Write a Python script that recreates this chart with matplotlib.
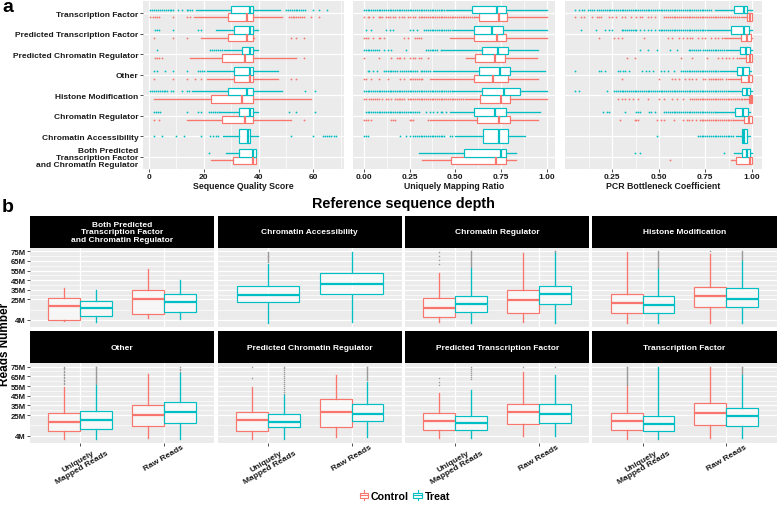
import numpy as np
import matplotlib
matplotlib.use("Agg")
import matplotlib.pyplot as plt
from matplotlib.patches import Rectangle, Patch
from matplotlib.lines import Line2D
from matplotlib.legend_handler import HandlerBase

plt.rcParams['font.family'] = ['Liberation Sans', 'DejaVu Sans']

# ---------------- DATA: panel a ----------------
A_CATS = ["Transcription Factor", "Predicted Transcription Factor", "Predicted Chromatin Regulator",
          "Other", "Histone Modification", "Chromatin Regulator", "Chromatin Accessibility",
          "Both Predicted\nTranscription Factor\nand Chromatin Regulator"]
A_METRICS = ["Sequence Quality Score", "Uniquely Mapping Ratio", "PCR Bottleneck Coefficient"]
A_XTICKS = [[0, 20, 40, 60], [0, 0.25, 0.5, 0.75, 1.0], [0.25, 0.5, 0.75, 1.0]]
A_XTICKLABELS = [["0", "20", "40", "60"], ["0.00", "0.25", "0.50", "0.75", "1.00"],
                 ["0.25", "0.50", "0.75", "1.00"]]

# (whisker low, q1, median, q3, whisker high)
SQS_TREAT = [(17.0, 29.8, 37.0, 38.0, 48.0), (24.6, 31.0, 37.0, 38.0, 39.8), (27.3, 34.0, 37.0, 38.0, 39.8),
             (21.0, 31.0, 37.0, 38.0, 47.0), (15.8, 29.0, 35.8, 38.0, 48.6), (25.8, 32.8, 37.0, 38.0, 39.8),
             (27.0, 32.8, 36.1, 37.0, 39.8), (28.2, 32.8, 38.0, 38.9, 38.9)]
SQS_TREAT_FLIERS = [
    [0.5, 1.2, 1.9, 2.6, 3.3, 4.0, 4.7, 5.4, 6.1, 6.8, 7.5, 8.2, 8.9, 10.7, 11.9, 13.7, 14.4, 15.1, 15.8,
     50.0, 50.7, 51.4, 52.1, 52.8, 53.5, 54.2, 54.9, 55.6, 56.3, 57.0, 60.0, 62.0, 65.0],
    [2.0, 2.8, 3.6, 8.8, 18.0, 19.0],
    [2.8, 22.4, 23.1, 23.8, 24.5, 25.2, 25.9, 26.6],
    [1.8, 2.8, 5.7, 8.8, 14.0, 18.0, 18.7, 19.4, 20.1],
    [0.4, 1.1, 1.8, 2.5, 3.2, 3.9, 4.6, 5.3, 6.0, 6.7, 8.0, 8.8, 11.9, 13.7, 14.7, 57.0, 60.7],
    [1.8, 2.5, 3.2, 4.0, 14.0, 18.0, 19.0, 22.0, 22.7, 23.4, 24.1, 24.8, 25.5, 51.0, 53.7, 60.7],
    [1.8, 4.6, 9.8, 12.7, 18.9, 22.4, 23.4, 24.4, 25.2, 51.9, 59.8, 63.4, 64.2, 65.0, 65.8, 66.6, 67.4, 68.2],
    [22.0]]
SQS_CTRL = [(16.5, 29.0, 35.8, 38.0, 48.6), (19.0, 29.0, 35.8, 38.0, 38.5), (15.0, 26.8, 35.0, 38.0, 53.7),
            (21.0, 31.0, 37.0, 38.0, 47.0), (1.8, 22.8, 33.8, 38.0, 59.0), (14.0, 26.8, 35.0, 38.0, 52.0),
            None, (22.8, 30.7, 38.0, 38.9, 38.9)]
SQS_CTRL_FLIERS = [
    [0.5, 1.3, 2.1, 2.9, 3.7, 8.8, 14.0, 15.0, 51.0, 51.7, 52.4, 53.1, 53.8, 54.5, 55.2, 55.9, 56.6, 59.0, 62.0],
    [1.8, 8.8, 14.0, 52.0, 53.7, 56.7],
    [2.0, 2.8, 3.6, 4.6, 56.7],
    [1.8, 8.8, 14.0, 16.7, 19.0, 52.0, 53.5],
    [],
    [1.8, 3.8, 56.7],
    [],
    []]

UMR_TREAT = [(0.45, 0.59, 0.73, 0.78, 1.00), (0.48, 0.60, 0.70, 0.76, 1.00), (0.43, 0.645, 0.736, 0.79, 0.955),
             (0.38, 0.63, 0.745, 0.80, 0.99), (0.49, 0.645, 0.767, 0.855, 1.00), (0.47, 0.60, 0.72, 0.78, 0.965),
             (0.50, 0.65, 0.74, 0.79, 0.88), (0.30, 0.55, 0.75, 0.775, 0.835)]
UMR_TREAT_FLIERS = [
    [0.00, 0.01, 0.02, 0.03, 0.04, 0.05, 0.06, 0.07, 0.08, 0.09, 0.10, 0.11, 0.12, 0.13, 0.14, 0.15, 0.16,
     0.17, 0.18, 0.19, 0.20, 0.21, 0.22, 0.23, 0.24, 0.25, 0.26, 0.27, 0.28, 0.29, 0.30, 0.31, 0.32, 0.33,
     0.34, 0.35, 0.36, 0.37, 0.38, 0.39, 0.40, 0.41, 0.42, 0.43, 0.44],
    [0.01, 0.04, 0.12, 0.14, 0.16, 0.25, 0.27, 0.29, 0.33, 0.34, 0.35, 0.36, 0.37, 0.38, 0.39, 0.40, 0.41,
     0.42, 0.43, 0.44, 0.45, 0.46, 0.47],
    [0.00, 0.01, 0.02, 0.03, 0.04, 0.05, 0.06, 0.07, 0.08, 0.11, 0.13, 0.15, 0.23, 0.34, 0.35, 0.36, 0.37,
     0.38, 0.39, 0.40, 0.42],
    [0.02, 0.03, 0.05, 0.07, 0.11, 0.12, 0.13, 0.14, 0.15, 0.16, 0.17, 0.18, 0.20, 0.21, 0.22, 0.23, 0.24,
     0.25, 0.26, 0.27, 0.28, 0.29, 0.31, 0.32, 0.33, 0.34, 0.35, 0.36],
    [0.00, 0.01, 0.02, 0.03, 0.04, 0.05, 0.06, 0.07, 0.08, 0.09, 0.10, 0.11, 0.12, 0.13, 0.14, 0.15, 0.16,
     0.17, 0.18, 0.19, 0.20, 0.21, 0.22, 0.23, 0.24, 0.25, 0.26, 0.27, 0.28, 0.29, 0.30, 0.31, 0.32, 0.33,
     0.34, 0.35, 0.36, 0.37, 0.38, 0.39, 0.40, 0.41, 0.42, 0.43, 0.44, 0.45, 0.46, 0.47, 0.48],
    [0.01, 0.02, 0.03, 0.04, 0.05, 0.06, 0.07, 0.08, 0.09, 0.10, 0.11, 0.12, 0.13, 0.14, 0.15, 0.16, 0.17,
     0.18, 0.19, 0.20, 0.21, 0.22, 0.23, 0.24, 0.25, 0.26, 0.27, 0.28, 0.29, 0.30, 0.34, 0.36, 0.38, 0.40,
     0.42, 0.43, 0.45],
    [0.00, 0.01, 0.02, 0.20, 0.23, 0.25, 0.27, 0.28, 0.29, 0.30, 0.31, 0.32, 0.33, 0.34, 0.35, 0.36, 0.37,
     0.38, 0.39, 0.40, 0.41, 0.42, 0.43, 0.44, 0.47, 0.48],
    []]
UMR_CTRL = [(0.61, 0.63, 0.74, 0.785, 1.00), (0.47, 0.60, 0.73, 0.78, 1.00), (0.56, 0.61, 0.72, 0.77, 0.945),
            (0.36, 0.60, 0.705, 0.79, 0.955), (0.555, 0.633, 0.75, 0.80, 1.00), (0.36, 0.62, 0.74, 0.80, 0.955),
            None, (0.32, 0.475, 0.725, 0.78, 0.835)]
UMR_CTRL_FLIERS = [
    [0.00, 0.02, 0.03, 0.05, 0.08, 0.09, 0.10, 0.12, 0.13, 0.14, 0.16, 0.17, 0.19, 0.21, 0.22, 0.24, 0.25,
     0.27, 0.28, 0.30, 0.31, 0.32, 0.33, 0.34, 0.35, 0.36, 0.37, 0.38, 0.39, 0.40, 0.41, 0.42, 0.43, 0.44,
     0.45, 0.46, 0.47, 0.48, 0.49, 0.50, 0.51, 0.52, 0.53, 0.54, 0.55, 0.56, 0.57, 0.58, 0.59, 0.60],
    [0.00, 0.01, 0.02, 0.05, 0.08, 0.09, 0.11, 0.22, 0.24, 0.28, 0.29, 0.30, 0.31],
    [0.00, 0.08, 0.15, 0.18, 0.19, 0.20, 0.22, 0.25, 0.27, 0.28, 0.30, 0.31, 0.35],
    [0.00, 0.01, 0.04, 0.08, 0.13, 0.20, 0.22, 0.25, 0.26, 0.27, 0.28, 0.29, 0.30, 0.31, 0.32],
    [0.00, 0.01, 0.03, 0.04, 0.05, 0.06, 0.07, 0.08, 0.10, 0.12, 0.13, 0.15, 0.17, 0.18, 0.19, 0.20, 0.21,
     0.22, 0.24, 0.25, 0.26, 0.27, 0.28, 0.29, 0.30, 0.31, 0.32, 0.33, 0.34, 0.35, 0.36, 0.37, 0.38, 0.39,
     0.40, 0.41, 0.42, 0.43, 0.44, 0.45, 0.46, 0.47, 0.48, 0.49, 0.50, 0.51, 0.52, 0.53, 0.54],
    [0.00, 0.01, 0.02, 0.04, 0.15, 0.16, 0.17, 0.25, 0.26, 0.27, 0.35],
    [],
    []]

PCB_TREAT = [(0.80, 0.906, 0.96, 0.977, 1.0), (0.76, 0.89, 0.957, 0.983, 1.0), (0.86, 0.937, 0.97, 0.99, 1.0),
             (0.83, 0.923, 0.954, 0.983, 0.997), (0.88, 0.948, 0.974, 0.99, 1.0), (0.81, 0.91, 0.954, 0.979, 0.99),
             (0.915, 0.948, 0.96, 0.977, 0.99), (0.906, 0.945, 0.974, 0.99, 1.0)]
PCB_TREAT_FLIERS = [
    [0.05, 0.07, 0.09, 0.10, 0.12, 0.13, 0.14, 0.15, 0.17, 0.18, 0.19, 0.20, 0.21, 0.22, 0.23, 0.24, 0.25,
     0.26, 0.27, 0.28, 0.29, 0.30, 0.31, 0.32, 0.33, 0.34, 0.35, 0.36, 0.37, 0.38, 0.39, 0.40, 0.41, 0.42,
     0.43, 0.44, 0.45, 0.46, 0.47, 0.48, 0.49, 0.50, 0.51, 0.52, 0.53, 0.54, 0.55, 0.56, 0.57, 0.58, 0.59,
     0.60, 0.61, 0.62, 0.63, 0.64, 0.65, 0.66, 0.67, 0.68, 0.69, 0.70, 0.71, 0.72, 0.73, 0.74, 0.75, 0.76,
     0.77, 0.78],
    [0.08, 0.165, 0.21, 0.23, 0.25, 0.30, 0.31, 0.32, 0.33, 0.34, 0.35, 0.36, 0.37, 0.38, 0.40, 0.42, 0.44,
     0.46, 0.48, 0.50, 0.51, 0.52, 0.53, 0.54, 0.55, 0.56, 0.57, 0.58, 0.59, 0.60, 0.61, 0.62, 0.63, 0.64,
     0.65, 0.66, 0.67, 0.68, 0.69, 0.70, 0.71, 0.72, 0.73, 0.74, 0.75],
    [0.40, 0.44, 0.49, 0.56, 0.60, 0.66, 0.67, 0.68, 0.69, 0.70, 0.71, 0.72, 0.74, 0.75, 0.76, 0.77, 0.78,
     0.79, 0.80, 0.81, 0.82, 0.83, 0.84, 0.85],
    [0.05, 0.18, 0.19, 0.21, 0.28, 0.29, 0.31, 0.32, 0.34, 0.41, 0.43, 0.45, 0.47, 0.51, 0.53, 0.55, 0.58,
     0.62, 0.63, 0.64, 0.65, 0.66, 0.67, 0.68, 0.69, 0.70, 0.71, 0.72, 0.73, 0.74, 0.75, 0.76, 0.77, 0.78,
     0.79, 0.80, 0.81, 0.82],
    [0.05, 0.07, 0.22, 0.26, 0.27, 0.28, 0.29, 0.30, 0.31, 0.32, 0.33, 0.34, 0.35, 0.36, 0.37, 0.38, 0.39,
     0.40, 0.41, 0.42, 0.43, 0.44, 0.45, 0.46, 0.47, 0.48, 0.49, 0.50, 0.51, 0.52, 0.53, 0.54, 0.55, 0.56,
     0.57, 0.58, 0.59, 0.60, 0.61, 0.62, 0.63, 0.64, 0.65, 0.66, 0.67, 0.68, 0.69, 0.70, 0.71, 0.72, 0.73,
     0.74, 0.75, 0.76, 0.77, 0.78, 0.79, 0.80, 0.81, 0.82, 0.83, 0.84, 0.85, 0.86, 0.87],
    [0.20, 0.22, 0.23, 0.32, 0.38, 0.39, 0.40, 0.45, 0.46, 0.48, 0.53, 0.54, 0.55, 0.56, 0.57, 0.58, 0.59,
     0.60, 0.61, 0.62, 0.63, 0.64, 0.65, 0.66, 0.67, 0.68, 0.69, 0.70, 0.71, 0.72, 0.73, 0.74, 0.75, 0.76,
     0.77, 0.78, 0.79, 0.80],
    [0.49, 0.71, 0.72, 0.73, 0.74, 0.75, 0.76, 0.77, 0.78, 0.79, 0.80, 0.81, 0.82, 0.83, 0.84, 0.85, 0.86,
     0.87, 0.88, 0.89, 0.90],
    [0.37, 0.40, 0.85]]
PCB_CTRL = [(0.94, 0.974, 0.988, 1.0, 1.0), (0.85, 0.94, 0.977, 0.994, 1.0), (0.93, 0.97, 0.988, 1.0, 1.0),
            (0.87, 0.943, 0.983, 1.0, 1.0), (0.965, 0.983, 0.994, 1.0, 1.0), (0.905, 0.957, 0.983, 1.0, 1.0),
            None, (0.889, 0.914, 0.99, 1.0, 1.0)]
PCB_CTRL_FLIERS = [
    [0.05, 0.08, 0.10, 0.14, 0.17, 0.18, 0.19, 0.23, 0.25, 0.27, 0.30, 0.32, 0.35, 0.38, 0.40, 0.41, 0.44,
     0.46, 0.48, 0.53, 0.54, 0.55, 0.56, 0.57, 0.58, 0.59, 0.60, 0.61, 0.62, 0.63, 0.64, 0.65, 0.66, 0.67,
     0.68, 0.69, 0.70, 0.71, 0.72, 0.73, 0.74, 0.75, 0.76, 0.77, 0.78, 0.79, 0.80, 0.81, 0.82, 0.83, 0.84,
     0.85, 0.86, 0.87, 0.88, 0.89, 0.90, 0.91, 0.92, 0.93],
    [0.18, 0.26, 0.28, 0.30, 0.42, 0.55, 0.57, 0.61, 0.63, 0.65, 0.67, 0.68, 0.71, 0.73, 0.75, 0.78, 0.80,
     0.82, 0.84],
    [0.33, 0.37, 0.62, 0.68, 0.76, 0.82, 0.84, 0.86, 0.88, 0.90, 0.92],
    [0.30, 0.50, 0.57, 0.59, 0.61, 0.64, 0.66, 0.68, 0.70, 0.74, 0.75, 0.77, 0.78, 0.79, 0.80, 0.81, 0.82,
     0.83, 0.84, 0.86],
    [0.28, 0.30, 0.32, 0.34, 0.36, 0.39, 0.44, 0.50, 0.53, 0.57, 0.60, 0.63, 0.67, 0.68, 0.69, 0.70, 0.71,
     0.72, 0.73, 0.74, 0.75, 0.76, 0.77, 0.78, 0.79, 0.80, 0.81, 0.82, 0.83, 0.84, 0.85, 0.86, 0.87, 0.88,
     0.89, 0.90, 0.91, 0.92, 0.93, 0.94, 0.95, 0.96],
    [0.29, 0.37, 0.38, 0.39, 0.49, 0.51, 0.53, 0.58, 0.63, 0.65, 0.66, 0.68, 0.70, 0.72, 0.73, 0.74, 0.75,
     0.76, 0.77, 0.78, 0.79, 0.80, 0.81, 0.82, 0.83, 0.84, 0.85, 0.86, 0.87, 0.88, 0.89, 0.90],
    [],
    [0.56]]

# ---------------- DATA: panel b ----------------
B_FACETS = ["Both Predicted\nTranscription Factor\nand Chromatin Regulator", "Chromatin Accessibility",
            "Chromatin Regulator", "Histone Modification", "Other", "Predicted Chromatin Regulator",
            "Predicted Transcription Factor", "Transcription Factor"]
B_CATS = ["Uniquely\nMapped Reads", "Raw Reads"]
B_YTICKS = [4, 25, 35, 45, 55, 65, 75]
B_YTICKLABELS = ["4M", "25M", "35M", "45M", "55M", "65M", "75M"]
B_CTRL = [
    [(2.9, 4.0, 18.4, 27.0, 36.6), (5.5, 9.9, 25.3, 34.9, 56.2)],
    [None, None],
    [(1.3, 7.1, 15.7, 27.0, 52.8), (2.0, 10.9, 24.4, 34.9, 73.3)],
    [(0.3, 10.5, 20.9, 31.1, 74.0), (0.3, 17.4, 28.1, 38.4, 71.6)],
    [(0.5, 8.5, 17.9, 26.8, 54.2), (1.2, 14.0, 25.5, 35.5, 67.0)],
    [(0.5, 8.5, 19.6, 28.3, 54.2), (2.3, 12.7, 28.3, 41.4, 66.3)],
    [(1.2, 9.9, 18.9, 27.1, 47.9), (3.3, 16.1, 28.3, 36.9, 69.8)],
    [(0.5, 9.9, 18.9, 27.1, 55.0), (1.2, 15.4, 27.1, 37.2, 75.0)]]
B_TREAT = [
    [(1.3, 8.1, 15.7, 23.6, 34.9), (4.7, 12.2, 21.9, 31.1, 44.9)],
    [(0.2, 22.5, 30.1, 39.0, 62.0), (1.2, 31.1, 41.4, 52.8, 74.0)],
    [(0.3, 11.6, 20.2, 28.1, 57.9), (0.3, 20.2, 30.9, 39.3, 73.0)],
    [(0.3, 10.5, 19.4, 28.8, 57.0), (0.3, 16.7, 26.0, 36.6, 65.0)],
    [(0.5, 10.6, 20.6, 29.6, 55.9), (0.5, 17.5, 28.3, 38.7, 68.0)],
    [(0.5, 12.7, 18.5, 26.5, 45.5), (3.0, 18.9, 25.8, 36.2, 59.4)],
    [(1.2, 9.9, 17.2, 24.7, 50.7), (3.3, 16.8, 26.2, 36.2, 66.3)],
    [(0.5, 8.5, 15.8, 23.7, 75.0), (1.2, 14.4, 23.7, 32.4, 66.0)]]
B_CTRL_FLIERS = [
    [[], []],
    [[], []],
    [[62, 66, 70, 74], []],
    [[], [75]],
    [[57, 58.5, 60, 61.5, 63, 64.5, 66, 67.5, 69, 70.5, 72, 73.5, 75], []],
    [[63, 74], []],
    [[56, 59, 63], [74]],
    [[56, 57, 58, 59, 60, 61, 62, 63, 64, 65, 66, 67, 68, 69, 70, 71, 72, 73, 74, 75], []]]
B_TREAT_FLIERS = [
    [[], []],
    [[63.5, 64.5, 65.5, 66.5, 67.5, 68.5, 69.5, 70.5, 71.5, 72.5, 73.5, 74.5], []],
    [[59, 60, 61, 62, 63, 64, 65, 66, 67, 68, 69, 70, 71, 72, 73, 74, 75], [74, 74.8, 75.6]],
    [[58, 59, 60, 61, 62, 63, 64, 65, 66, 67, 68, 69, 70, 71, 72, 73, 74, 75],
     [66, 67, 68, 69, 70, 71, 72, 73, 74, 75]],
    [[57, 58, 59, 60, 61, 62, 63, 64, 65, 66, 67, 68, 69, 70, 71, 72, 73, 74, 75], [69.5, 71, 72.5, 74]],
    [[47, 49, 51, 53, 55, 57, 59, 61, 63, 65, 67, 69, 71, 73, 75],
     [61, 62, 63, 64, 65, 66, 67, 68, 69, 70, 71, 72, 73, 74, 75]],
    [[62, 64, 66, 68, 70, 72, 74], [74.5]],
    [[], [67, 68, 69, 70, 71, 72, 73, 74, 75]]]

GROUPS = ["Control", "Treat"]

# ---------------- styling ----------------
RED = '#F8766D'
TEAL = '#00BFC4'
BG = '#EBEBEB'
TXT = '#1a1a1a'
W, H = 778, 506
fig = plt.figure(figsize=(W / 100, H / 100), dpi=100)


def add_ax(x0, y0, x1, y1):
    return fig.add_axes([x0 / W, 1 - y1 / H, (x1 - x0) / W, (y1 - y0) / H])


def style_panel(ax):
    ax.set_facecolor(BG)
    for s in ax.spines.values():
        s.set_visible(False)
    ax.grid(True, which='major', color='white', lw=0.9)
    ax.grid(True, which='minor', color='white', lw=0.45)
    ax.set_axisbelow(True)
    ax.tick_params(which='major', length=2, width=0.6, color='#333333', pad=1.2)
    ax.tick_params(which='minor', length=0)


def draw(ax, stat, fl, pos, width, color, horizontal, fcolor, fsize, fill_alpha=1.0):
    lo, q1, med, q3, hi = stat
    d = dict(whislo=lo, q1=q1, med=med, q3=q3, whishi=hi, fliers=np.array(fl, dtype=float))
    has_fl = len(fl) > 0
    art = ax.bxp([d], positions=[pos], widths=width,
                 orientation='horizontal' if horizontal else 'vertical',
                 patch_artist=True, showcaps=False, manage_ticks=False, showfliers=has_fl,
                 boxprops=dict(facecolor=(1, 1, 1, fill_alpha), edgecolor=color, lw=0.85),
                 whiskerprops=dict(color=color, lw=0.95, linestyle='-'),
                 medianprops=dict(color=color, lw=1.6, solid_capstyle='butt'),
                 flierprops=dict(marker='o', markersize=fsize, markerfacecolor=fcolor,
                                 markeredgecolor='none', linestyle='none'))
    for ln in art['whiskers']:
        ln.set_color(color)
        ln.set_zorder(2.5)
    for ln in art['medians']:
        ln.set_color(color)
        ln.set_zorder(3)
    for b in art['boxes']:
        b.set_edgecolor(color)
    for ln in art['fliers']:
        ln.set_zorder(2.2)


# ---------------- panel a ----------------
a_boxes = [(143, 344), (353, 555), (565, 762)]
a_xlim = [(-2.2, 71.2), (-0.06, 1.046), (-0.004, 1.055)]
a_minor = [[10, 30, 50, 70], [0.125, 0.375, 0.625, 0.875], [0.125, 0.375, 0.625, 0.875]]
a_data = [(SQS_CTRL, SQS_CTRL_FLIERS, SQS_TREAT, SQS_TREAT_FLIERS),
          (UMR_CTRL, UMR_CTRL_FLIERS, UMR_TREAT, UMR_TREAT_FLIERS),
          (PCB_CTRL, PCB_CTRL_FLIERS, PCB_TREAT, PCB_TREAT_FLIERS)]
for k in range(3):
    ax = add_ax(a_boxes[k][0], 2, a_boxes[k][1], 170)
    style_panel(ax)
    ctrl, ctrl_f, treat, treat_f = a_data[k]
    for i in range(len(A_CATS)):
        if ctrl[i] is None:
            draw(ax, treat[i], treat_f[i], i, 0.70, TEAL, True, TEAL, 1.3)
        else:
            draw(ax, ctrl[i], ctrl_f[i], i + 0.185, 0.37, RED, True, RED, 1.3)
            draw(ax, treat[i], treat_f[i], i - 0.185, 0.37, TEAL, True, TEAL, 1.3)
    ax.set_ylim(len(A_CATS) - 0.4, -0.6)
    ax.set_xlim(*a_xlim[k])
    ax.set_xticks(A_XTICKS[k])
    ax.set_xticklabels(A_XTICKLABELS[k], fontsize=6, fontweight='bold', color=TXT)
    ax.set_xticks(a_minor[k], minor=True)
    ax.set_yticks(range(len(A_CATS)))
    if k == 0:
        ax.set_yticklabels(A_CATS, fontsize=6, fontweight='bold', color=TXT, linespacing=1.0)
    else:
        ax.set_yticklabels([])
        ax.tick_params(axis='y', length=0)
    ax.set_xlabel(A_METRICS[k], fontsize=6.3, fontweight='bold', color=TXT, labelpad=0.3)

fig.text(2 / W, 1 - 11.7 / H, 'a', fontsize=14, fontweight='bold', va='baseline', ha='left')
fig.text(2 / W, 1 - 211.7 / H, 'b', fontsize=14, fontweight='bold', va='baseline', ha='left')

# ---------------- panel b ----------------
fig.text(403 / W, 1 - 204 / H, 'Reference sequence depth', ha='center', va='center',
         fontsize=10.4, fontweight='bold')
b_cols = [(30, 214), (217.7, 401.7), (405, 589.3), (592.3, 776.5)]
b_rows = [((216.7, 249), (249, 328)), ((332.3, 364.3), (364.3, 444))]
b_minor = [14.5, 30, 40, 50, 60, 70]
for f in range(len(B_FACETS)):
    r, c = divmod(f, 4)
    (sy0, sy1), (py0, py1) = b_rows[r]
    x0, x1 = b_cols[c]
    sax = add_ax(x0, sy0, x1, sy1)
    sax.set_facecolor('black')
    sax.set_xticks([])
    sax.set_yticks([])
    for s in sax.spines.values():
        s.set_visible(False)
    sax.text(0.5, 0.5, B_FACETS[f], color='white', ha='center', va='center', fontsize=6,
             fontweight='bold', linespacing=1.1, transform=sax.transAxes)
    ax = add_ax(x0, py0, x1, py1)
    style_panel(ax)
    for j in range(len(B_CATS)):
        pos = j + 1
        cs, ts = B_CTRL[f][j], B_TREAT[f][j]
        if cs is None:
            draw(ax, ts, B_TREAT_FLIERS[f][j], pos, 0.75, TEAL, False, '#9a9a9a', 1.1, 0.6)
        else:
            draw(ax, cs, B_CTRL_FLIERS[f][j], pos - 0.19, 0.38, RED, False, '#9a9a9a', 1.1, 0.6)
            draw(ax, ts, B_TREAT_FLIERS[f][j], pos + 0.19, 0.38, TEAL, False, '#9a9a9a', 1.1, 0.6)
    ax.set_xlim(0.4, 2.6)
    ax.set_ylim(-3.5, 78.3)
    ax.set_yticks(B_YTICKS)
    ax.set_yticks(b_minor, minor=True)
    ax.set_xticks([1, 2])
    if c == 0:
        ax.set_yticklabels(B_YTICKLABELS, fontsize=5.6, fontweight='bold', color=TXT)
    else:
        ax.set_yticklabels([])
        ax.tick_params(axis='y', length=0)
    if r == 1:
        ax.set_xticklabels(B_CATS, fontsize=6, fontweight='bold', color=TXT, rotation=30,
                           ha='center', va='top', linespacing=1.0)
        ax.tick_params(axis='x', pad=-2)
    else:
        ax.set_xticklabels([])
        ax.tick_params(axis='x', length=0)

fig.text(5.5 / W, 1 - 344 / H, 'Reads Number', rotation=90, ha='center', va='center',
         fontsize=8.5, fontweight='bold')


# ---------------- legend ----------------
class BoxHandler(HandlerBase):
    def create_artists(self, legend, orig_handle, xdescent, ydescent, width, height, fontsize, trans):
        col = orig_handle.get_edgecolor()
        x0, y0 = -xdescent, -ydescent
        rect = Rectangle((x0, y0 + height * 0.2), width, height * 0.6, facecolor='white',
                         edgecolor=col, lw=0.8, transform=trans)
        med = Line2D([x0, x0 + width], [y0 + height / 2] * 2, color=col, lw=0.8, transform=trans)
        w1 = Line2D([x0 + width / 2] * 2, [y0 - height * 0.05, y0 + height * 0.2], color=col, lw=0.8,
                    transform=trans)
        w2 = Line2D([x0 + width / 2] * 2, [y0 + height * 0.8, y0 + height * 1.05], color=col, lw=0.8,
                    transform=trans)
        return [rect, med, w1, w2]


handles = [Patch(edgecolor=RED, facecolor='white'), Patch(edgecolor=TEAL, facecolor='white')]
fig.legend(handles=handles, labels=GROUPS, handler_map={Patch: BoxHandler()}, ncol=2, loc='center',
           bbox_to_anchor=(405 / W, 1 - 497 / H), frameon=False,
           prop=dict(weight='bold', size=7.7), handlelength=0.8, handleheight=0.9,
           handletextpad=0.25, columnspacing=0.4, borderpad=0, borderaxespad=0)

fig.savefig('out.png', dpi=100)
